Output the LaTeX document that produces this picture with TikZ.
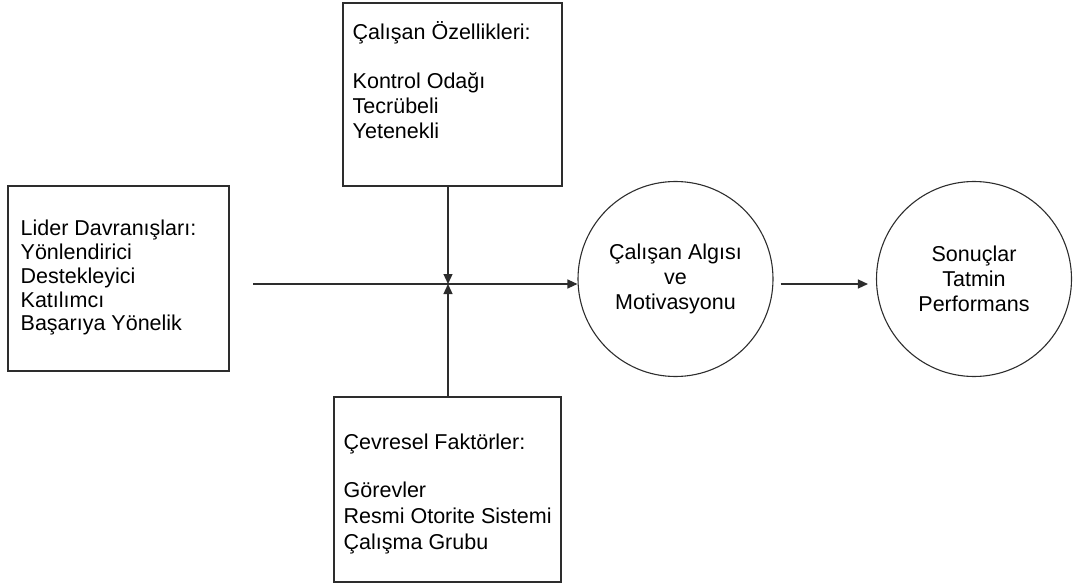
\documentclass[tikz,border=0pt]{standalone}
\usepackage{fontspec}
\setmainfont{Liberation Sans}
\usetikzlibrary{arrows.meta}
\tikzstyle{canvas} = [x=1pt, y=-1pt]
\definecolor{lineColor}{RGB}{45,45,45}
\tikzstyle{boxStyle} = [draw=lineColor, line width=1.3pt, inner sep=0pt]
\tikzstyle{boxText} = [anchor=north west, inner sep=0pt, align=left, font=\fontsize{21.5}{25}\selectfont]
\tikzstyle{circleStyle} = [draw=lineColor, line width=1.1pt, circle, minimum size=195pt, inner sep=0pt, align=center, font=\fontsize{21.5}{25}\selectfont]
\tikzstyle{connector} = [draw=lineColor, line width=1.3pt, -{Triangle[length=10pt,width=9pt]}]

\begin{document}
\begin{tikzpicture}[canvas]
    \useasboundingbox (0,0) rectangle (1075,585);
    % boxes
    \node [boxStyle, minimum width=221pt, minimum height=185pt] (lider) at (118.5,278.5) {};
    \node [boxText, font=\fontsize{21.5}{23.75}\selectfont] (liderText) at (20.5,220) {Lider Davranışları:\\Yönlendirici\\Destekleyici\\Katılımcı\\Başarıya Yönelik};
    \node [boxStyle, minimum width=219pt, minimum height=183pt] (ozellik) at (452.5,94.5) {};
    \node [boxText] (ozellikText) at (352.5,21) {Çalışan Özellikleri:\\[24pt]Kontrol Odağı\\Tecrübeli\\Yetenekli};
    \node [boxStyle, minimum width=227pt, minimum height=185pt] (cevre) at (447.5,489.5) {};
    \node [boxText, font=\fontsize{21.5}{26}\selectfont] (cevreText) at (343.5,434) {Çevresel Faktörler:\\[22pt]Görevler\\Resmi Otorite Sistemi\\Çalışma Grubu};
    % circles
    \node [circleStyle] (algi) at (675.5,279) {Çalışan Algısı\\ve\\Motivasyonu};
    \node [circleStyle] (sonuc) at (974,279) {Sonuçlar\\Tatmin\\Performans};
    % connectors
    \coordinate (start) at (253,284);
    \coordinate (junction) at (448,284);
    \draw [connector] (start) -- (start -| algi.west);
    \draw [connector] (ozellik.south -| junction) -- (junction);
    \draw [connector] (cevre.north -| junction) -- (junction);
    \draw [connector, shorten <=7pt, shorten >=8pt] (algi.east |- start) -- (sonuc.west |- start);
\end{tikzpicture}
\end{document}
